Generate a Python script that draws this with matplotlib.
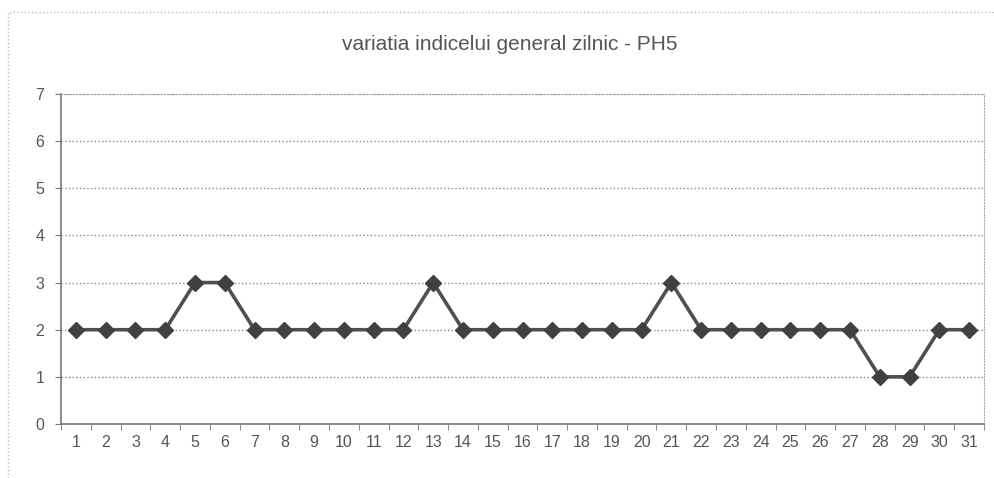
import matplotlib
matplotlib.use("Agg")
import matplotlib.pyplot as plt
from matplotlib.lines import Line2D

days = list(range(1, 32))
values = [2, 2, 2, 2, 3, 3, 2, 2, 2, 2, 2, 2, 3, 2, 2, 2, 2, 2, 2, 2,
          3, 2, 2, 2, 2, 2, 2, 1, 1, 2, 2]
title = "variatia indicelui general zilnic - PH5"

plt.rcParams['font.family'] = ['Liberation Sans', 'DejaVu Sans']
fig = plt.figure(figsize=(9.94, 4.78), dpi=100)
W, H = 994, 478
ax = fig.add_axes([61 / W, 1 - 424 / H, (984 - 61) / W, (424 - 94) / H])

ax.plot(days, values, color='#505050', lw=2.6, marker='D', markersize=8.5,
        markerfacecolor='#404040', markeredgecolor='#404040', zorder=3)

ax.set_xlim(0.5, 31.5)
ax.set_ylim(0, 7)
ax.set_yticks(range(0, 8))
ax.set_xticks(days)
ax.set_xticklabels([str(d) for d in days])
ax.set_xticks([d + 0.5 for d in range(0, 32)], minor=True)
ax.tick_params(axis='x', which='major', length=0, pad=8, labelsize=11.5, labelcolor='#555555')
ax.tick_params(axis='x', which='minor', length=4, color='#777777', direction='out')
ax.tick_params(axis='y', length=4, color='#777777', pad=8, labelsize=11.5, labelcolor='#555555')

ax.grid(axis='y', color='#888888', linestyle=':', linewidth=1.0)
ax.set_axisbelow(True)
for s in ['top', 'right']:
    ax.spines[s].set_color('#aaaaaa')
    ax.spines[s].set_linestyle(':')
for s in ['left', 'bottom']:
    ax.spines[s].set_color('#777777')
    ax.spines[s].set_linewidth(1.2)

fig.text(510 / W, 1 - 45 / H, title, ha='center', va='center', fontsize=15, color='#555555')

fig.lines.append(Line2D([8 / W, 8 / W, 1.0], [0.0, 1 - 12 / H, 1 - 12 / H],
                        transform=fig.transFigure, color='#bbbbbb',
                        linestyle=':', linewidth=1))

fig.savefig("out.png", dpi=100, facecolor='white')
